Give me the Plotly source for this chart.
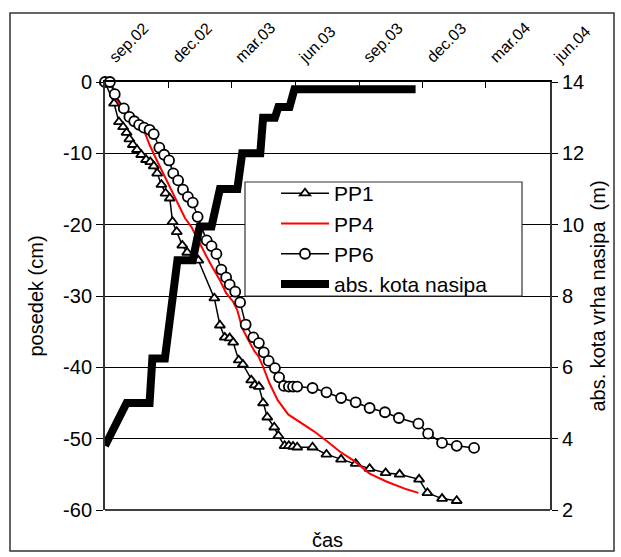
import plotly.graph_objects as go

# ---- data ----
pp1_dates = ["2002-09-01", "2002-09-14", "2002-09-21", "2002-09-27", "2002-10-02", "2002-10-06",
             "2002-10-11", "2002-10-17", "2002-10-23", "2002-10-30", "2002-11-05", "2002-11-10",
             "2002-11-15", "2002-11-21", "2002-11-27", "2002-12-03", "2002-12-07", "2002-12-13",
             "2002-12-21", "2002-12-28", "2003-01-13", "2003-02-05", "2003-02-13", "2003-02-20",
             "2003-02-27", "2003-03-04", "2003-03-12", "2003-03-18", "2003-03-30", "2003-04-04",
             "2003-04-10", "2003-04-16", "2003-04-22", "2003-05-02", "2003-05-08", "2003-05-17",
             "2003-05-23", "2003-05-29", "2003-06-04", "2003-06-26", "2003-07-16", "2003-08-06",
             "2003-08-27", "2003-09-16", "2003-10-09", "2003-10-29", "2003-11-26", "2003-12-08",
             "2003-12-29", "2004-01-19"]
pp1_cm = [0.0, -3.0, -5.6, -6.3, -7.1, -8.0,
          -8.8, -9.5, -10.2, -10.9, -11.2, -11.8,
          -12.8, -14.4, -15.6, -16.3, -19.6, -21.0,
          -22.9, -23.9, -25.0, -30.3, -34.1, -35.8,
          -35.9, -36.5, -39.0, -39.6, -41.8, -42.5,
          -42.7, -45.0, -47.0, -48.4, -49.6, -51.0,
          -51.0, -51.1, -51.2, -51.2, -52.2, -52.9,
          -53.5, -54.2, -54.8, -55.0, -55.7, -57.6,
          -58.4, -58.7]

pp4_dates = ["2002-09-01", "2002-09-08", "2002-09-12", "2002-09-18", "2002-09-25", "2002-10-06",
             "2002-10-17", "2002-10-26", "2002-10-29", "2002-11-04", "2002-11-14", "2002-11-21",
             "2002-11-28", "2002-12-05", "2002-12-13", "2002-12-20", "2002-12-25", "2003-01-03",
             "2003-01-10", "2003-01-15", "2003-01-25", "2003-02-03", "2003-02-13", "2003-02-22",
             "2003-03-04", "2003-03-10", "2003-03-17", "2003-03-26", "2003-04-04", "2003-04-09",
             "2003-04-16", "2003-04-25", "2003-05-07", "2003-05-22", "2003-06-03", "2003-06-27",
             "2003-07-16", "2003-08-04", "2003-08-23", "2003-09-16", "2003-10-10", "2003-11-08",
             "2003-11-25"]
pp4_cm = [0.0, 0.0, -0.6, -2.5, -3.6, -4.8,
          -5.8, -6.6, -7.3, -8.8, -10.9, -12.3,
          -13.7, -15.1, -16.5, -17.9, -19.1, -20.3,
          -21.7, -22.6, -24.5, -26.1, -27.8, -29.6,
          -30.8, -32.0, -34.5, -36.2, -37.8, -38.4,
          -39.9, -42.2, -44.6, -46.6, -47.4, -48.9,
          -50.3, -51.8, -53.0, -54.9, -56.0, -57.1,
          -57.6]

pp6_dates = ["2002-09-01", "2002-09-08", "2002-09-15", "2002-09-28", "2002-10-06", "2002-10-13",
             "2002-10-20", "2002-10-27", "2002-11-04", "2002-11-10", "2002-11-18", "2002-11-25",
             "2002-12-02", "2002-12-08", "2002-12-15", "2002-12-22", "2002-12-29", "2003-01-05",
             "2003-01-12", "2003-01-25", "2003-02-01", "2003-02-08", "2003-02-15", "2003-02-22",
             "2003-02-27", "2003-03-07", "2003-03-14", "2003-03-22", "2003-04-02", "2003-04-10",
             "2003-04-17", "2003-04-24", "2003-05-03", "2003-05-09", "2003-05-16", "2003-05-23",
             "2003-05-29", "2003-06-04", "2003-06-26", "2003-07-16", "2003-08-06", "2003-08-27",
             "2003-09-16", "2003-10-08", "2003-10-28", "2003-11-25", "2003-12-09", "2003-12-29",
             "2004-01-19", "2004-02-13"]
pp6_cm = [0.0, 0.0, -1.7, -3.7, -4.9, -5.5,
          -6.0, -6.4, -6.7, -7.3, -9.2, -10.2,
          -11.0, -12.8, -13.8, -15.1, -16.1, -16.9,
          -18.9, -22.2, -23.0, -24.1, -26.3, -27.4,
          -28.4, -29.4, -30.9, -34.0, -35.8, -36.6,
          -37.9, -39.1, -40.1, -41.4, -42.6, -42.7,
          -42.7, -42.7, -42.9, -43.5, -44.3, -44.9,
          -45.7, -46.3, -47.1, -47.9, -49.3, -50.6,
          -51.0, -51.3]

nasip_dates = ["2002-09-01", "2002-10-02", "2002-11-04", "2002-11-08", "2002-11-26", "2002-12-14",
               "2003-01-05", "2003-01-15", "2003-02-01", "2003-02-13", "2003-03-10", "2003-03-17",
               "2003-04-12", "2003-04-16", "2003-05-03", "2003-05-08", "2003-05-24", "2003-05-31",
               "2003-11-21"]
nasip_m = [3.8, 5.0, 5.0, 6.25, 6.25, 9.0,
           9.0, 9.95, 9.95, 11.0, 11.0, 12.0,
           12.0, 13.0, 13.0, 13.3, 13.3, 13.8,
           13.8]

tick_dates = ["2002-09-01", "2002-12-01", "2003-03-01", "2003-06-01",
              "2003-09-01", "2003-12-01", "2004-03-01", "2004-06-01"]
tick_labels = ["sep.02", "dec.02", "mar.03", "jun.03", "sep.03", "dec.03", "mar.04", "jun.04"]

y1_ticks = [0, -10, -20, -30, -40, -50, -60]
y1_labels = ["0", "-10", "-20", "-30", "-40", "-50", "-60"]
y2_ticks = [2, 4, 6, 8, 10, 12, 14]
y2_labels = ["2", "4", "6", "8", "10", "12", "14"]

FONT = "Liberation Sans, Arial, sans-serif"

fig = go.Figure()
fig.add_trace(go.Scatter(x=pp1_dates, y=pp1_cm, name="PP1", mode="lines+markers",
                         line=dict(color="black", width=1.5),
                         marker=dict(symbol="triangle-up", size=9, color="white",
                                     line=dict(color="black", width=1.8)),
                         cliponaxis=False))
fig.add_trace(go.Scatter(x=pp4_dates, y=pp4_cm, name="PP4", mode="lines",
                         line=dict(color="#ff0000", width=2), cliponaxis=False))
fig.add_trace(go.Scatter(x=pp6_dates, y=pp6_cm, name="PP6", mode="lines+markers",
                         line=dict(color="black", width=1.5),
                         marker=dict(symbol="circle", size=10, color="white",
                                     line=dict(color="black", width=1.8)),
                         cliponaxis=False))
fig.add_trace(go.Scatter(x=nasip_dates, y=nasip_m, name="abs. kota nasipa", mode="lines",
                         yaxis="y2", line=dict(color="black", width=8), cliponaxis=False))

L, R, T, B = 105, 71, 82, 47
W, H = 621, 557
pw, ph = W - L - R, H - T - B

def px(x):
    return (x - L) / pw

def py(y):
    return (H - B - y) / ph

fig.update_layout(
    width=W, height=H,
    margin=dict(l=L, r=R, t=T, b=B, autoexpand=False),
    paper_bgcolor="white", plot_bgcolor="white",
    font=dict(family=FONT, color="black", size=20),
    showlegend=True,
    legend=dict(x=px(276), y=py(173), xanchor="left", yanchor="top",
                bgcolor="rgba(0,0,0,0)", borderwidth=0,
                font=dict(size=21, family=FONT), itemwidth=48,
                tracegroupgap=0),
    xaxis=dict(type="date", side="top", range=["2002-09-01", "2004-06-01"],
               tickvals=tick_dates, ticktext=tick_labels, tickangle=-45,
               tickfont=dict(size=16), ticks="inside", ticklen=6, tickcolor="black",
               ticklabelstandoff=8, ticklabelshift=5,
               showline=True, linecolor="black", linewidth=1.5, showgrid=False,
               zeroline=False, automargin=False),
    yaxis=dict(range=[-60, 0], tickvals=y1_ticks, ticktext=y1_labels,
               ticks="outside", ticklen=7, tickcolor="black",
               showline=True, linecolor="#333333", linewidth=2,
               showgrid=True, gridcolor="black", gridwidth=1, zeroline=False,
               automargin=False,
               title=dict(text="posedek (cm)", font=dict(size=20), standoff=14)),
    yaxis2=dict(range=[2, 14], tickvals=y2_ticks, ticktext=y2_labels, overlaying="y",
                side="right", ticks="outside", ticklen=6, tickcolor="black",
                showline=True, linecolor="#333333", linewidth=2,
                showgrid=False, zeroline=False, automargin=False,
                title=dict(text="abs. kota vrha nasipa  (m)", font=dict(size=20), standoff=8)),
    shapes=[
        dict(type="rect", xref="paper", yref="paper", x0=px(10), x1=px(614), y0=py(551), y1=py(13),
             line=dict(color="#333333", width=1.5), fillcolor="rgba(0,0,0,0)", layer="below"),
        dict(type="line", xref="paper", yref="paper", x0=0, x1=1, y0=0, y1=0,
             line=dict(color="black", width=1.5)),
        dict(type="rect", xref="paper", yref="paper", x0=px(245), x1=px(522), y0=py(296), y1=py(182),
             line=dict(color="#333333", width=1.2), fillcolor="white", layer="above"),
    ],
    annotations=[
        dict(text="čas", xref="paper", yref="paper", x=0.5, y=py(540), xanchor="center",
             yanchor="middle", showarrow=False, font=dict(size=20, family=FONT)),
    ],
)

fig.write_html("out.html", config={"displayModeBar": False},
               post_script="document.body.style.margin='0px';")
